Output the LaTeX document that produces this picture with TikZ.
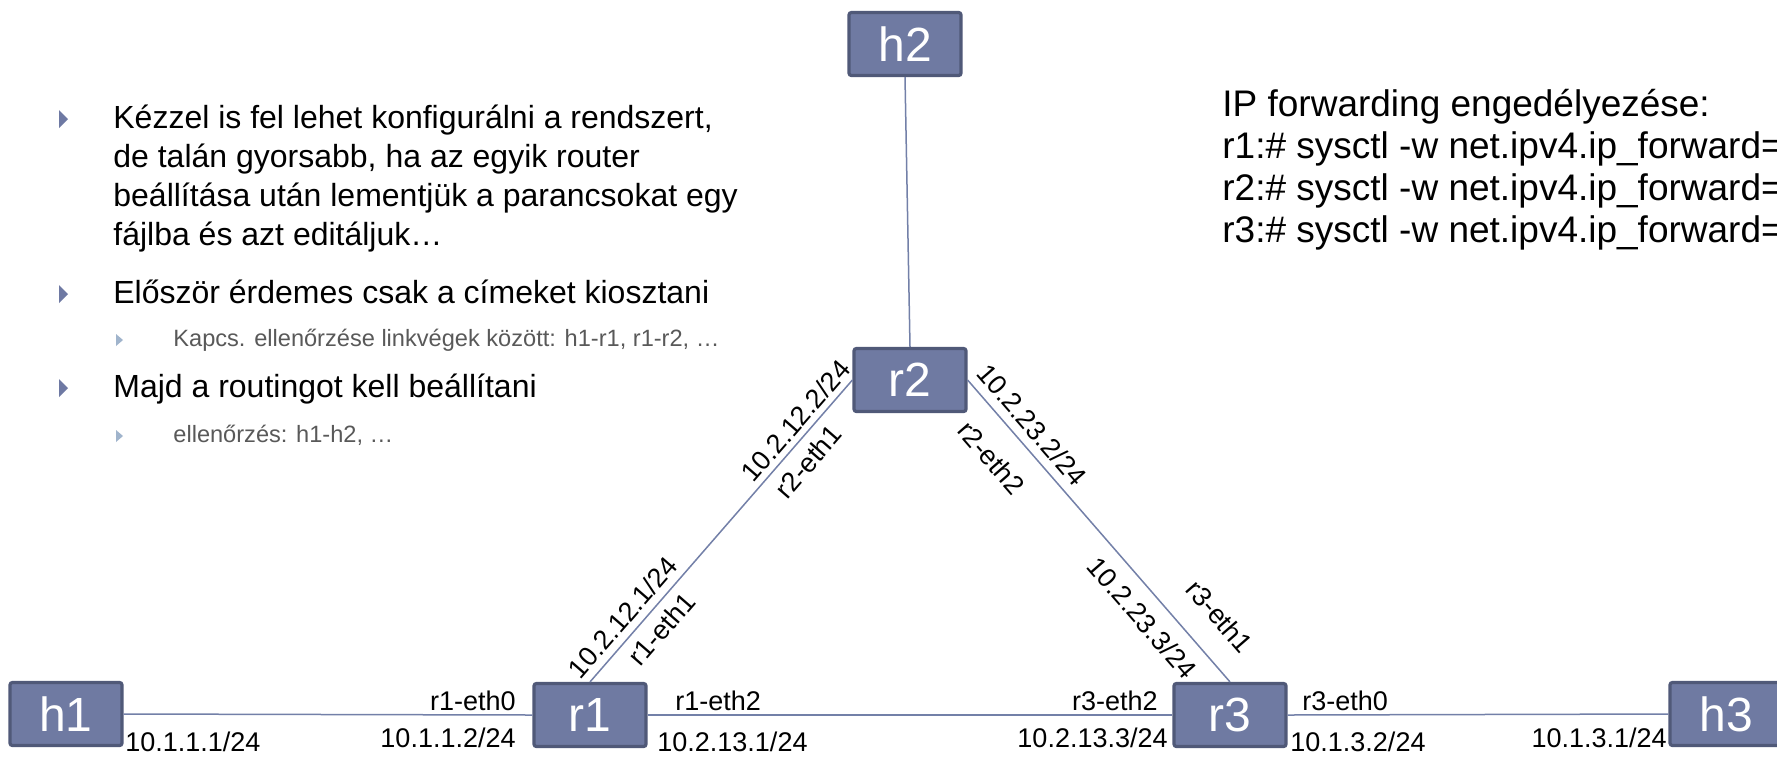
\documentclass[tikz,border=0pt]{standalone}
\usepackage{fontspec}
\setmainfont{Liberation Sans}
\definecolor{boxfill}{RGB}{111,122,162}
\definecolor{boxborder}{RGB}{80,89,120}
\definecolor{linkc}{RGB}{115,128,168}
\definecolor{bulletc}{RGB}{110,121,163}
\definecolor{subbulletc}{RGB}{160,180,204}
\definecolor{subgray}{RGB}{89,89,89}
\tikzset{
  netbox/.style={draw=boxborder, line width=1.6pt, fill=boxfill, rounded corners=1.2pt,
    minimum width=56pt, minimum height=31.5pt, inner sep=0pt, text=white,
    font=\fontsize{24}{28}\selectfont},
  link/.style={draw=linkc, line width=0.75pt},
  lbl/.style={font=\fontsize{13.5}{16}\selectfont, inner sep=0pt, text=black},
  maintxt/.style={anchor=base west, inner sep=0pt, font=\fontsize{16}{19}\selectfont},
  subtxt/.style={anchor=base west, inner sep=0pt, font=\fontsize{11.8}{14}\selectfont, text=subgray},
  righttxt/.style={anchor=base west, inner sep=0pt, font=\fontsize{18.5}{22}\selectfont},
  bullet/.style={fill=bulletc},
  subbullet/.style={fill=subbulletc}
}
\begin{document}
\begin{tikzpicture}[x=0.5pt,y=-0.5pt]
\useasboundingbox[fill=white] (0,0) rectangle (1777,757);

% bullet list
\fill[bullet] (59,110) -- (68,119) -- (59,128) -- cycle;
\node[maintxt] (t1a) at (113,128) {Kézzel is fel lehet konfigurálni a rendszert,};
\node[maintxt] (t1b) at (113,167) {de talán gyorsabb, ha az egyik router};
\node[maintxt] (t1c) at (113,206) {beállítása után lementjük a parancsokat egy};
\node[maintxt] (t1d) at (113,245) {fájlba és azt editáljuk…};
\fill[bullet] (59,285) -- (68,294) -- (59,303) -- cycle;
\node[maintxt] (t2) at (113,303) {Először érdemes csak a címeket kiosztani};
\fill[subbullet] (116,334) -- (123,340) -- (116,346) -- cycle;
\node[subtxt] (t2s) at (173,346) {Kapcs. ellenőrzése linkvégek között: h1-r1, r1-r2, …};
\fill[bullet] (59,379) -- (68,388) -- (59,397) -- cycle;
\node[maintxt] (t3) at (113,397) {Majd a routingot kell beállítani};
\fill[subbullet] (116,430) -- (123,436) -- (116,442) -- cycle;
\node[subtxt] (t3s) at (173,442) {ellenőrzés: h1-h2, …};

% right text
\node[righttxt] (ipf) at (1222,116) {IP forwarding engedélyezése:};
\node[righttxt] (ipr1) at (1222,158) {r1:\# sysctl -w net.ipv4.ip\_forward=};
\node[righttxt] (ipr2) at (1222,200) {r2:\# sysctl -w net.ipv4.ip\_forward=};
\node[righttxt] (ipr3) at (1222,242) {r3:\# sysctl -w net.ipv4.ip\_forward=};

% network nodes
\node[netbox] (h2) at (905,44) {h2};
\node[netbox] (r2) at (910,380) {r2};
\node[netbox] (h1) at (66,714) {h1};
\node[netbox] (r1) at (590,715) {r1};
\node[netbox] (r3) at (1230,715) {r3};
\node[netbox] (h3) at (1726,714) {h3};

% links
\draw[link] (h2.south) -- (r2.north);
\draw[link] (h1.east) -- (r1.west);
\draw[link] (r1.east) -- (r3.west);
\draw[link] (r3.east) -- (h3.west);
\draw[link] (r1.north) --
  node[lbl, sloped, pos=0.176, above=3.5pt] (l12a) {10.2.12.1/24}
  node[lbl, sloped, pos=0.218, below=4.25pt] (l12b) {r1-eth1}
  node[lbl, sloped, pos=0.83, above=2.75pt] (l12c) {10.2.12.2/24}
  node[lbl, sloped, pos=0.774, below=4.75pt] (l12d) {r2-eth1}
  (r2.west);
\draw[link] (r2.east) --
  node[lbl, sloped, pos=0.19, above=4.25pt] (l23a) {10.2.23.2/24}
  node[lbl, sloped, pos=0.186, below=11.25pt] (l23b) {r2-eth2}
  node[lbl, sloped, pos=0.735, below=6.75pt] (l23c) {10.2.23.3/24}
  node[lbl, sloped, pos=0.86, above=12.25pt] (l23d) {r3-eth1}
  (r3.north);

% horizontal link labels
\node[lbl, anchor=base west] (lh1) at (125,751) {10.1.1.1/24};
\node[lbl, anchor=base east] (lr1a) at (516,747) {10.1.1.2/24};
\node[lbl, anchor=base east] (lr1b) at (516,710) {r1-eth0};
\node[lbl, anchor=base west] (lr1c) at (675,710) {r1-eth2};
\node[lbl, anchor=base west] (lr1d) at (657,751) {10.2.13.1/24};
\node[lbl, anchor=base east] (lr3a) at (1158,710) {r3-eth2};
\node[lbl, anchor=base east] (lr3b) at (1168,747) {10.2.13.3/24};
\node[lbl, anchor=base west] (lr3c) at (1302,710) {r3-eth0};
\node[lbl, anchor=base west] (lr3d) at (1290,751) {10.1.3.2/24};
\node[lbl, anchor=base east] (lh3) at (1667,747) {10.1.3.1/24};
\end{tikzpicture}
\end{document}
